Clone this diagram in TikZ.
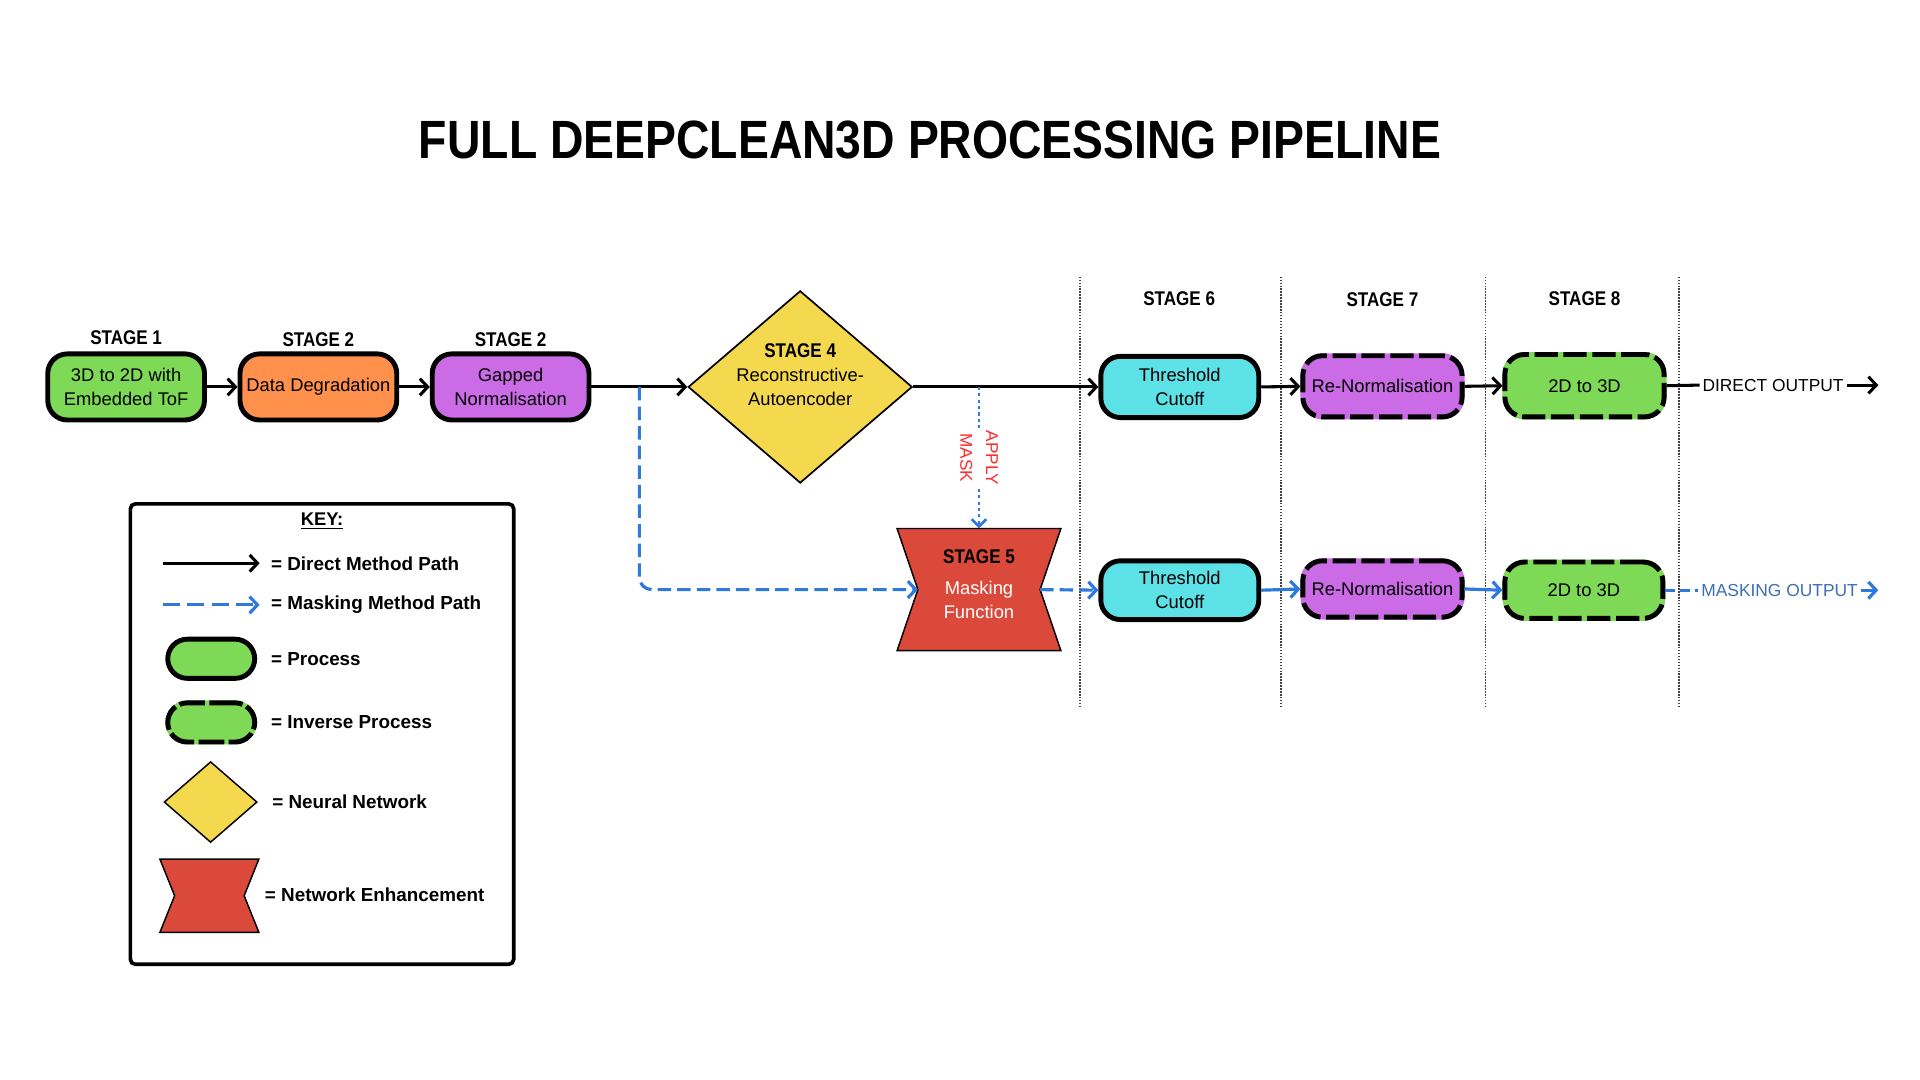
\documentclass[tikz,border=0pt]{standalone}
\usepackage{fontspec}
\setmainfont{Liberation Sans}
\newfontfamily\condfont[FakeStretch=0.86]{Liberation Sans}
\usetikzlibrary{arrows.meta,shapes.geometric,calc}
\definecolor{cgreen}{HTML}{7ED957}
\definecolor{corange}{HTML}{FF914D}
\definecolor{cpurple}{HTML}{CB6CE6}
\definecolor{cyellow}{HTML}{F4D84E}
\definecolor{cred}{HTML}{DA4939}
\definecolor{ccyan}{HTML}{5CE1E6}
\definecolor{mblue}{HTML}{2F78DC}
\definecolor{outblue}{HTML}{3D6FB6}
\definecolor{maskred}{HTML}{FF2A2A}
\definecolor{sepgray}{HTML}{444444}
\tikzset{
  bodyfont/.style={font=\fontsize{7.5}{9.9}\selectfont},
  proc/.style={draw=black, line width=2pt, rounded corners=8pt, align=center,
    inner sep=0pt, bodyfont},
  inv/.style={proc, draw=#1, fill=#1,
    postaction={draw=black, line width=2pt, dash pattern=on 9.5pt off 2.3pt}},
  invsmall/.style={proc, draw=#1, fill=#1,
    postaction={draw=black, line width=2pt, dash pattern=on 10.5pt off 1.8pt}},
  stagelbl/.style={font=\condfont\bfseries\fontsize{8.1}{9}\selectfont, inner sep=0pt},
  keytxt/.style={font=\bfseries\fontsize{7.7}{9}\selectfont, inner sep=1pt, anchor=west},
  darr/.style={draw=black, line width=1.25pt, -{Straight Barb[length=3.2pt,width=6.8pt]}},
  barr/.style={draw=mblue, line width=1.3pt, dash pattern=on 5.5pt off 2.5pt,
    -{Straight Barb[length=3.2pt,width=6.8pt]}},
  bsol/.style={draw=mblue, line width=1.3pt, -{Straight Barb[length=3.2pt,width=6.8pt]}},
  bdot/.style={draw=mblue, line width=1.1pt, dash pattern=on 1.3pt off 1.3pt,
    -{Straight Barb[length=3pt,width=6pt]}},
  sepline/.style={draw=sepgray, line width=0.6pt, dash pattern=on 0.6pt off 0.6pt},
}
\begin{document}
\begin{tikzpicture}[x=0.5pt,y=-0.5pt]
\useasboundingbox[fill=white] (0,0) rectangle (1568,882);

% title
\node[font=\condfont\bfseries\fontsize{22}{26}\selectfont] (title) at (759.5,114) {FULL DEEPCLEAN3D PROCESSING PIPELINE};

% stage separators
\foreach \xx in {882,1046,1213,1371}{
  \draw[sepline] (\xx,226) -- (\xx,578);
}

% stage labels
\node[stagelbl] (l1) at (103,276) {STAGE 1};
\node[stagelbl] (l2) at (260,277) {STAGE 2};
\node[stagelbl] (l3) at (417,277) {STAGE 2};
\node[stagelbl] (l6) at (963,244) {STAGE 6};
\node[stagelbl] (l7) at (1129,245) {STAGE 7};
\node[stagelbl] (l8) at (1294,244) {STAGE 8};

% top row
\node[proc, fill=cgreen, minimum width=64pt, minimum height=27pt] (b1) at (103,316) {3D to 2D with\\Embedded ToF};
\node[proc, fill=corange, minimum width=64pt, minimum height=27pt] (b2) at (260,316) {Data Degradation};
\node[proc, fill=cpurple, minimum width=64pt, minimum height=27pt] (b3) at (417,316) {Gapped\\Normalisation};

\node[diamond, draw=black, line width=0.7pt, fill=cyellow, minimum width=91.5pt, minimum height=78.5pt, inner sep=0pt] (d4) at (653.5,316) {};
\node[align=center, bodyfont, inner sep=0pt] (d4t) at (653.5,306) {{\condfont\bfseries\fontsize{8.1}{9.9}\selectfont STAGE 4}\\Reconstructive-\\Autoencoder};

\node[proc, fill=ccyan, minimum width=64.5pt, minimum height=25pt] (t6a) at (963.5,316) {Threshold\\Cutoff};
\node[inv=cpurple, minimum width=65pt, minimum height=25pt] (r7a) at (1129,315.5) {Re-Normalisation};
\node[inv=cgreen, minimum width=65pt, minimum height=25.5pt] (b8a) at (1294,315) {2D to 3D};

\node[inner sep=1pt, font=\fontsize{7.1}{9}\selectfont, anchor=west] (dout) at (1388,314.5) {DIRECT OUTPUT};
\coordinate (dend) at (1534,314.5);

% stage 5
\node[minimum width=66.5pt, minimum height=49.5pt, inner sep=0pt] (s5) at (799.5,481.5) {};
\draw[fill=cred, line width=0.6pt] (s5.north west) -- (s5.north east)
  -- ($(s5.east)+(-17,0)$) coordinate (s5r) -- (s5.south east) -- (s5.south west)
  -- ($(s5.west)+(17,0)$) coordinate (s5l) -- cycle;
\node[align=center, bodyfont, inner sep=0pt] (s5t) at (799.5,477) {{\condfont\bfseries\fontsize{8.1}{9.9}\selectfont STAGE 5}\\[3pt]\textcolor{white}{Masking}\\\textcolor{white}{Function}};

% bottom row
\node[proc, fill=ccyan, minimum width=64.5pt, minimum height=24pt] (t6b) at (963.5,482) {Threshold\\Cutoff};
\node[inv=cpurple, minimum width=65pt, minimum height=23pt] (r7b) at (1129,481) {Re-Normalisation};
\node[inv=cgreen, minimum width=64.5pt, minimum height=23pt] (b8b) at (1293.5,482) {2D to 3D};

\node[inner sep=1pt, text=outblue, font=\fontsize{7.1}{9}\selectfont, anchor=west] (mout) at (1387,482) {MASKING OUTPUT};
\coordinate (mend) at (1534,482);

% direct connectors
\draw[darr] (b1.east) -- (b2.west);
\draw[darr] (b2.east) -- (b3.west);
\coordinate (split) at ($(b3.east)!0.5!(d4.west)$);
\draw[darr] (b3.east) -- (d4.west);
\draw[darr] (d4.east) -- (t6a.west);
\draw[darr] (t6a.east) -- (r7a.west);
\draw[darr] (r7a.east) -- (b8a.west);
\draw[line width=1.25pt] (b8a.east) -- (dout.west);
\draw[darr] (dout.east) -- (dend);

% masking connectors
\draw[barr, rounded corners=5pt] (split) |- (s5l);
\coordinate (mtap) at (s5.north |- d4.east);
\draw[bdot] (mtap) -- (s5.north);
\node[rotate=-90, fill=white, inner sep=1pt, align=center, text=maskred, font=\fontsize{7}{10.5}\selectfont] (am) at ($(mtap)!0.5!(s5.north)$) {APPLY\\MASK};
\draw[barr] (s5r) -- (t6b.west);
\draw[bsol] (t6b.east) -- (r7b.west);
\draw[bsol] (r7b.east) -- (b8b.west);
\draw[draw=mblue, line width=1.3pt, dash pattern=on 4pt off 2pt] (b8b.east) -- (mout.west);
\draw[bsol] (mout.east) -- (mend);

% key
\node[draw=black, line width=1.5pt, rounded corners=2pt, minimum width=156.5pt, minimum height=188pt, inner sep=0pt] (key) at (263,599.5) {};
\node[font=\bfseries\fontsize{7.5}{9}\selectfont, inner sep=0pt] (keyt) at (263,426) {\underline{KEY:}};

\coordinate (k1a) at (133,460);
\coordinate (k1b) at (212,460);
\draw[darr] (k1a) -- (k1b);
\node[keytxt] (k1t) at (219,460) {= Direct Method Path};

\coordinate (k2a) at (133,494);
\coordinate (k2b) at (212,494);
\draw[barr, dash pattern=on 7pt off 3pt] (k2a) -- (k2b);
\node[keytxt] (k2t) at (219,494) {= Masking Method Path};

\node[proc, fill=cgreen, minimum width=35.5pt, minimum height=16pt] (kp) at (172.5,538) {};
\node[keytxt] (kpt) at (219,538) {= Process};

\node[invsmall=cgreen, minimum width=35.5pt, minimum height=16pt] (ki) at (172.5,590) {};
\node[keytxt] (kit) at (219,590) {= Inverse Process};

\node[diamond, draw=black, line width=0.6pt, fill=cyellow, minimum width=38pt, minimum height=33pt, inner sep=0pt] (kd) at (172,655) {};
\node[keytxt] (kdt) at (220,655) {= Neural Network};

\node[minimum width=40pt, minimum height=29.5pt, inner sep=0pt] (kr) at (171,731.5) {};
\draw[fill=cred, line width=0.6pt] (kr.north west) -- (kr.north east)
  -- ($(kr.east)+(-12,0)$) -- (kr.south east) -- (kr.south west)
  -- ($(kr.west)+(12,0)$) -- cycle;
\node[keytxt] (krt) at (214,731) {= Network Enhancement};
\end{tikzpicture}
\end{document}
